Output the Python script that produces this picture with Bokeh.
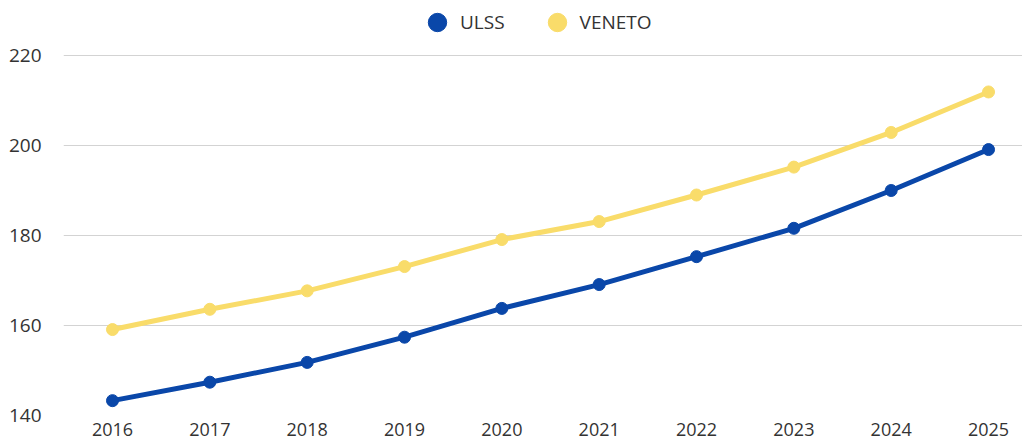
from bokeh.plotting import figure
from bokeh.models import ColumnDataSource, Legend, LegendItem, FixedTicker, Range1d
from bokeh.embed import file_html
from bokeh.resources import INLINE

years = [2016, 2017, 2018, 2019, 2020, 2021, 2022, 2023, 2024, 2025]
ulss = [143.3, 147.4, 151.8, 157.4, 163.8, 169.1, 175.3, 181.6, 190.0, 199.1]
veneto = [159.1, 163.6, 167.7, 173.1, 179.1, 183.1, 189.0, 195.2, 202.9, 211.9]
y_ticks = [140, 160, 180, 200, 220]
series_names = ["ULSS", "VENETO"]
colors = ["#0A47A9", "#F9DC6A"]

FONT = "Open Sans"
TEXT = "#333333"

p = figure(width=1022, height=441, output_backend="svg", toolbar_location=None,
           x_range=Range1d(2015.4966, 2025.349), y_range=Range1d(140, 231.78),
           min_border_left=63, min_border_right=0, min_border_top=2, min_border_bottom=26)
p.outline_line_color = None
p.background_fill_color = "white"
p.border_fill_color = "white"

src = ColumnDataSource(dict(year=years, ulss=ulss, veneto=veneto))

renderers = {}
for col, c in zip(["veneto", "ulss"], [colors[1], colors[0]]):
    p.line("year", col, source=src, line_color=c, line_width=5, line_join="round")
    renderers[col] = p.scatter("year", col, source=src, size=12, fill_color=c, line_color=c)

p.xaxis.ticker = FixedTicker(ticks=years)
p.yaxis.ticker = FixedTicker(ticks=y_ticks)
for ax in (p.xaxis, p.yaxis):
    ax.axis_line_color = None
    ax.major_tick_line_color = None
    ax.minor_tick_line_color = None
    ax.major_label_text_font = FONT
    ax.major_label_text_color = TEXT
p.xaxis.major_label_text_font_size = "18px"
p.yaxis.major_label_text_font_size = "19px"
p.xaxis.major_label_standoff = 1
p.yaxis.major_label_standoff = 16

p.xgrid.grid_line_color = None
p.ygrid.grid_line_color = "#D3D3D3"
p.ygrid.grid_line_width = 1

legend = Legend(items=[LegendItem(label=series_names[0], renderers=[renderers["ulss"]]),
                       LegendItem(label=series_names[1], renderers=[renderers["veneto"]])],
                orientation="horizontal", location=(351, 370),
                glyph_width=46, glyph_height=46, label_standoff=0, spacing=29,
                padding=0, margin=0, background_fill_alpha=0, border_line_color=None,
                label_text_font=FONT, label_text_font_size="19px", label_text_color=TEXT)
p.add_layout(legend, "center")

open("out.html", "w").write(file_html(p, INLINE))
